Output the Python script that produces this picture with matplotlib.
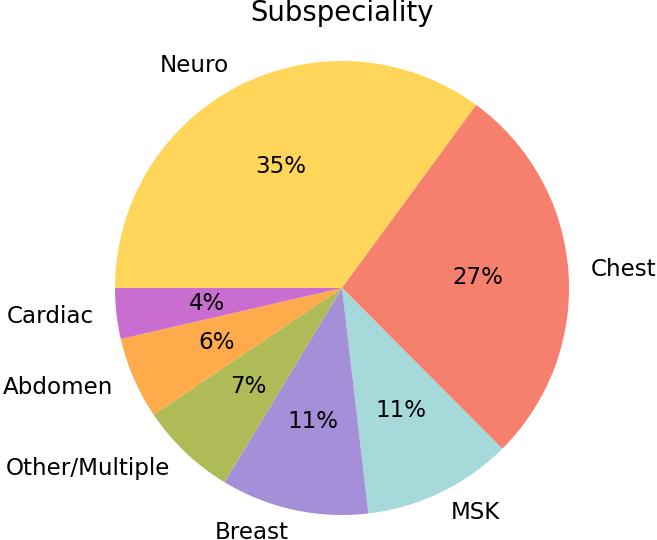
import matplotlib
matplotlib.use("Agg")
import matplotlib.pyplot as plt

categories = ["Neuro", "Chest", "MSK", "Breast", "Other/Multiple", "Abdomen", "Cardiac"]
values = [35.0, 27.4, 10.6, 10.5, 6.9, 5.8, 3.6]
colors = ["#FFD55A", "#F67F6E", "#A6D9DA", "#A58FD9", "#AFBB57", "#FFAB4C", "#C96DD0"]
title = "Subspeciality"

plt.rcParams["font.family"] = ["DejaVu Sans"]
fig = plt.figure(figsize=(6.57, 5.4), dpi=100)
W, H = 657, 540
r_px = 227
cx, cy = 342, 540 - 288
side = r_px * 2.5
ax = fig.add_axes([(cx - side / 2) / W, (cy - side / 2) / H, side / W, side / H])
ax.pie(values, labels=categories, colors=colors, autopct="%1.0f%%",
       startangle=180, counterclock=False,
       textprops={"fontsize": 16.6})
ax.set_aspect("equal")
fig.text(342 / W, 1 - 21 / H, title, ha="center", va="baseline", fontsize=19.8)
fig.savefig("out.png", dpi=100)
